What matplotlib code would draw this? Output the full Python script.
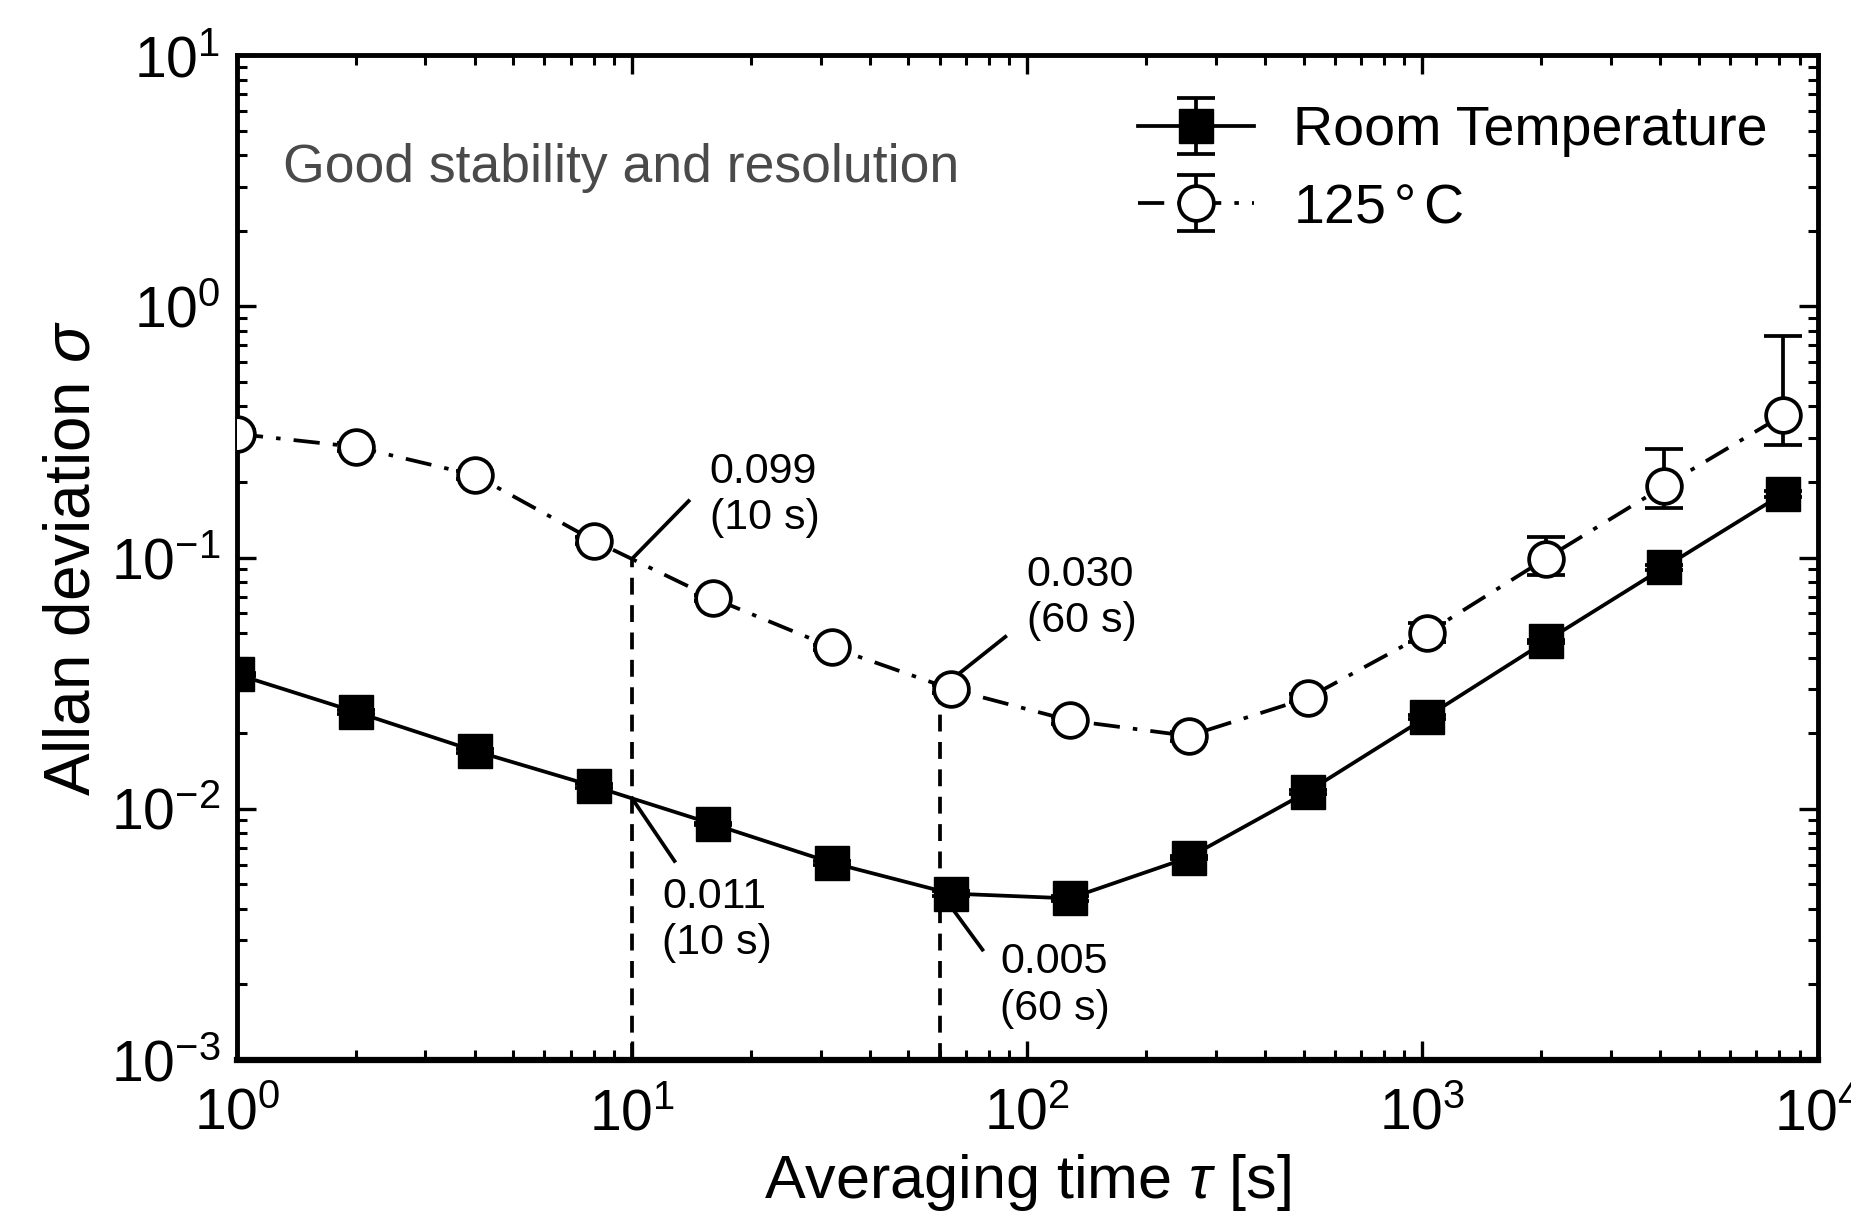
import numpy as np
import matplotlib.pyplot as plt
from matplotlib.ticker import LogLocator, NullFormatter

plt.rcParams['font.family'] = ['Liberation Sans', 'DejaVu Sans']
plt.rcParams['mathtext.fontset'] = 'custom'
plt.rcParams['mathtext.rm'] = 'Liberation Sans'
plt.rcParams['mathtext.it'] = 'Liberation Sans:italic'

# averaging time tau [s]
tau = [1, 2, 4, 8, 16, 32, 64, 128, 256, 512, 1024, 2048, 4096, 8192]

# Allan deviation, room temperature
sig_rt = [0.0343, 0.0243, 0.0170, 0.0123, 0.0087, 0.0061, 0.0046,
          0.0044, 0.0064, 0.0117, 0.0232, 0.0464, 0.0916, 0.180]
err_rt = [0.0005, 0.0004, 0.0003, 0.0002, 0.0001, 0.0001, 0.0001,
          0.0001, 0.0001, 0.0002, 0.0004, 0.0008, 0.002, 0.005]

# Allan deviation, 125 C
sig_hot = [0.311, 0.276, 0.213, 0.117, 0.069, 0.044, 0.030,
           0.0225, 0.0195, 0.0276, 0.050, 0.099, 0.193, 0.37]
err_hot_lo = [0.01, 0.01, 0.008, 0.004, 0.002, 0.001, 0.001,
              0.0008, 0.0008, 0.001, 0.004, 0.014, 0.036, 0.09]
err_hot_hi = [0.01, 0.01, 0.008, 0.004, 0.002, 0.001, 0.001,
              0.0008, 0.0008, 0.001, 0.005, 0.022, 0.077, 0.39]

# annotations: marked point, leader end, text position
ann_tau = [10, 10, 60, 60]
ann_sig = [0.099, 0.011, 0.030, 0.0047]
ann_txt = ['0.099\n(10 s)', '0.011\n(10 s)', '0.030\n(60 s)', '0.005\n(60 s)']
ann_end = [(13.9, 0.168), (12.8, 0.0062), (88, 0.0484), (77, 0.00275)]
ann_pos = [(15.7, 0.177), (11.9, 0.0036), (99.7, 0.069), (85.5, 0.00198)]

fig = plt.figure(figsize=(18.51, 12.12), dpi=100)
ax = fig.add_axes([0.128, 0.1254, 0.854, 0.829])

lw = 2.7
ax.errorbar(tau, sig_rt, yerr=err_rt, fmt='s-', color='black', mfc='black',
            ms=25, lw=lw, capsize=14, elinewidth=lw, capthick=lw,
            label='Room Temperature', zorder=4)
ax.errorbar(tau, sig_hot, yerr=[err_hot_lo, err_hot_hi], fmt='o', ls=(0, (7, 3.5, 1.2, 3.5)),
            color='black', mfc='white', mew=lw, ms=25, lw=lw, capsize=14,
            elinewidth=lw, capthick=lw, label='125$\\,$°$\\,$C', zorder=4)

for i in range(len(ann_tau)):
    x, y = ann_tau[i], ann_sig[i]
    if i in (0, 2):
        ax.plot([x, x], [1e-3, y], ls=(0, (4.5, 2.8)), color='black', lw=lw, zorder=2)
    ax.plot([x, ann_end[i][0]], [y, ann_end[i][1]], color='black', lw=lw, zorder=3)
    ax.text(ann_pos[i][0], ann_pos[i][1], ann_txt[i], fontsize=31,
            ha='left', va='center', linespacing=1.2)

ax.text(0.029, 0.888, 'Good stability and resolution', transform=ax.transAxes,
        fontsize=38.5, color='#4a4a4a', ha='left', va='center')

ax.set_xscale('log')
ax.set_yscale('log')
ax.set_xlim(1, 1e4)
ax.set_ylim(1e-3, 10)
ax.xaxis.set_minor_locator(LogLocator(base=10, subs=np.arange(2, 10), numticks=20))
ax.yaxis.set_minor_locator(LogLocator(base=10, subs=np.arange(2, 10), numticks=20))
ax.xaxis.set_minor_formatter(NullFormatter())
ax.yaxis.set_minor_formatter(NullFormatter())
ax.tick_params(which='both', direction='in', top=True, right=True, labelsize=41)
ax.tick_params(which='major', length=14, width=2.4)
ax.tick_params(axis='x', which='major', pad=20)
ax.tick_params(axis='y', which='major', pad=12)
ax.tick_params(which='minor', length=7, width=2.2)
for s in ax.spines.values():
    s.set_linewidth(3.5)
ax.spines['bottom'].set_linewidth(4.5)

ax.set_xlabel('Averaging time $\\mathit{\\tau}$ [s]', fontsize=44, labelpad=7)
ax.set_ylabel('Allan deviation $\\mathit{\\sigma}$', fontsize=46, labelpad=6)

ax.legend(loc='upper right', frameon=False, fontsize=40, handlelength=2.1,
          borderaxespad=0.5, labelspacing=0.45, handletextpad=0.7)

fig.savefig('out.png', dpi=100)
